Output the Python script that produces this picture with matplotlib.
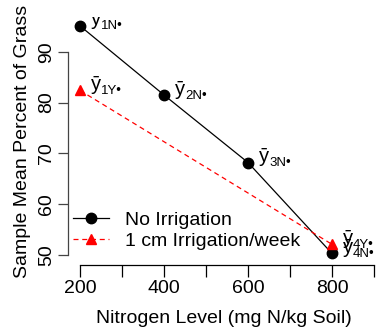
import matplotlib
matplotlib.use("Agg")
from matplotlib import pyplot as plt

plt.rcParams['font.family'] = ['Liberation Sans', 'DejaVu Sans']

# data
nitrogen = [200, 400, 600, 800]
no_irrigation = [95.1, 81.5, 68.2, 50.3]
irrigation_x = [200, 800]
irrigation = [82.4, 52.1]
no_irr_labels = ['1N', '2N', '3N', '4N']
irr_labels = ['1Y', '4Y']

fig = plt.figure(figsize=(3.79, 3.28), dpi=100)
ax = fig.add_axes([68 / 379, 63 / 328, 312 / 379, 248 / 328])

ax.plot(nitrogen, no_irrigation, color='black', lw=0.9, marker='o', ms=7.5,
        label='No Irrigation')
ax.plot(irrigation_x, irrigation, color='red', lw=0.9, ls=(0, (4, 3)),
        marker='^', ms=7.5, label='1 cm Irrigation/week')


def mean_label(x, y, s):
    # y-bar with its subscript and the averaging dot
    main = ax.annotate('\u0233', (x, y), xytext=(7.8, 0.3),
                       textcoords='offset points', ha='left', va='baseline',
                       fontsize=14.5, clip_on=True)
    ax.annotate(s + '\u2022', xy=(1, 0), xycoords=main, xytext=(0.2, 0),
                textcoords='offset points', ha='left', va='baseline',
                fontsize=9.5, clip_on=True)


for x, y, s in zip(nitrogen, no_irrigation, no_irr_labels):
    mean_label(x, y, s)
for x, y, s in zip(irrigation_x, irrigation, irr_labels):
    mean_label(x, y, s)

ax.set_xlim(171.4, 914.3)
ax.set_ylim(48.03, 96.85)

ax.spines['top'].set_visible(False)
ax.spines['right'].set_visible(False)
ax.spines['left'].set_bounds(50, 90)
ax.spines['bottom'].set_bounds(200, 900)
ax.spines['left'].set_color('#444444')
ax.spines['left'].set_linewidth(0.9)
ax.spines['bottom'].set_linewidth(0.9)

ax.set_xticks([200, 300, 400, 500, 600, 700, 800, 900])
ax.set_xticklabels(['200', '', '400', '', '600', '', '800', ''])
ax.set_yticks([50, 60, 70, 80, 90])
ax.set_yticklabels(['50', '60', '70', '80', '90'], rotation=90, va='center')
ax.tick_params(axis='x', length=8.5, width=0.9, labelsize=14, pad=2.5)
ax.tick_params(axis='y', length=7, width=0.9, labelsize=14, pad=2.5,
               color='#444444')

ax.set_xlabel('Nitrogen Level (mg N/kg Soil)', fontsize=14, labelpad=9)
ax.set_ylabel('Sample Mean Percent of Grass', fontsize=14, labelpad=5)

ax.legend(loc='lower left', bbox_to_anchor=(5 / 312, 0.062), frameon=False,
          fontsize=14, handlelength=1.85, handletextpad=0.82,
          labelspacing=0.15, borderaxespad=0.0, borderpad=0.0)

fig.savefig('out.png', dpi=100)
